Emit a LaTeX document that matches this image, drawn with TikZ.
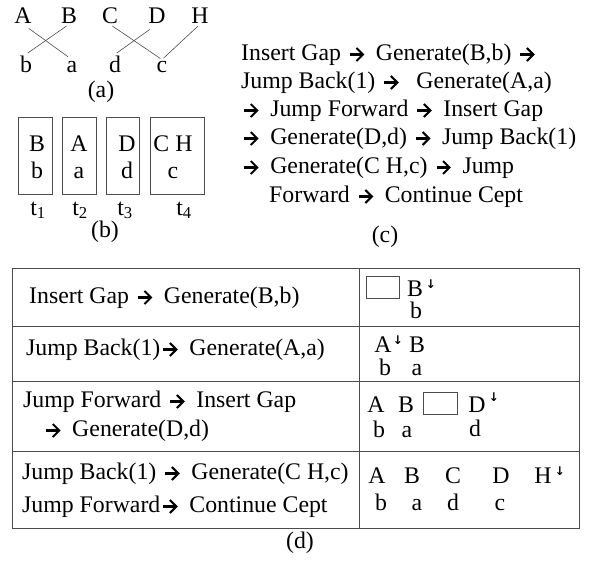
\documentclass[tikz,border=0pt]{standalone}
\usepackage{fontspec}
\setmainfont{Liberation Serif}
\newfontfamily\arrowfont{DejaVu Sans}
\newcommand{\ra}{\hspace{2pt}\tikz[baseline=0pt, x=1pt, y=1pt, line width=2.1pt]{\draw (0,5.5) -- (12.5,5.5); \draw[line join=miter] (6.5,12) -- (13,5.5) -- (6.5,-1);}\hspace{6pt}}
\newcommand{\dn}{{\arrowfont\bfseries\fontsize{12}{12}\selectfont ↓}}

\begin{document}
\begin{tikzpicture}[x=1pt,y=-1pt,
	every node/.style={font=\fontsize{23.8}{28}\selectfont, inner sep=1pt},
	word/.style={anchor=base},
	line/.style={anchor=base west},
	dnmark/.style={anchor=north, inner sep=0pt},
	link/.style={draw=black!70, line width=0.6pt, shorten <=3pt, shorten >=2pt},
	cept/.style={draw=black!70, line width=0.8pt, inner sep=0pt, minimum height=77pt},
	gapbox/.style={draw=black!70, line width=0.8pt, inner sep=0pt, minimum width=33pt, minimum height=22pt},
	rule/.style={draw=black!70, line width=0.9pt}]
\useasboundingbox (0,0) rectangle (592,560);

% (a)
\node[word] (A) at (23,23) {A};
\node[word] (B) at (69,23) {B};
\node[word] (C) at (110,23) {C};
\node[word] (D) at (157,23) {D};
\node[word] (H) at (200,23) {H};
\node[word] (b) at (26,72) {b};
\node[word] (a) at (72,72) {a};
\node[word] (d) at (115,72) {d};
\node[word] (c) at (162,72) {c};
\draw[link, shorten <=7pt, shorten >=5pt] (A.south) -- (a.north);
\draw[link] (B.south) -- (b.north);
\draw[link] (C.south) -- (c.north);
\draw[link, shorten <=9pt] (D.south) -- (d.north);
\draw[link] (H.south) -- (c.north);
\node[word] (capa) at (101,97) {(a)};

% (b)
\node[cept, minimum width=34pt] (t1box) at (35,155.5) {};
\node[cept, minimum width=34pt] (t2box) at (79,155.5) {};
\node[cept, minimum width=33pt] (t3box) at (122.5,155.5) {};
\node[cept, minimum width=54pt] (t4box) at (177,155.5) {};
\node[word] (t1src) at (37,151) {B};
\node[word] (t1tgt) at (37,178) {b};
\node[word] (t2src) at (79,151) {A};
\node[word] (t2tgt) at (79,178) {a};
\node[word] (t3src) at (127,151) {D};
\node[word] (t3tgt) at (127,178) {d};
\node[word] (t4src) at (173,151) {C H};
\node[word] (t4tgt) at (173,178) {c};
\node[word] (t1) at (38,215) {t\textsubscript{1}};
\node[word] (t2) at (80,215) {t\textsubscript{2}};
\node[word] (t3) at (125,215) {t\textsubscript{3}};
\node[word] (t4) at (184,215) {t\textsubscript{4}};
\node[word] (capb) at (105,237) {(b)};

% (c)
\node[line] (ops1) at (240,60) {Insert Gap \ra{} Generate(B,b) \ra};
\node[line] (ops2) at (240,88) {Jump Back(1) \ra{} \ Generate(A,a)};
\node[line] (ops3) at (240,116) {\ra{} Jump Forward \ra{} Insert Gap};
\node[line] (ops4) at (240,144) {\ra{} Generate(D,d) \ra{} Jump Back(1)};
\node[line] (ops5) at (240,173) {\ra{} Generate(C H,c) \ra{} Jump};
\node[line] (ops6) at (268,202) {Forward \ra{} Continue Cept};
\node[word] (capc) at (385,242) {(c)};

% (d)
\draw[rule] (12,268) rectangle (579,528);
\draw[rule] (359,268) -- (359,528);
\draw[rule] (12,326) -- (579,326);
\draw[rule] (12,381) -- (579,381);
\draw[rule] (12,451) -- (579,451);

\node[line] (row1) at (28,303) {Insert Gap \ra{} Generate(B,b)};
\node[line] (row2) at (25,355) {Jump Back(1)\ra{} Generate(A,a)};
\node[line] (row3a) at (22,407) {Jump Forward \ra{} Insert Gap};
\node[line] (row3b) at (42,436) {\ra{} Generate(D,d)};
\node[line] (row4a) at (21,479) {Jump Back(1) \ra{} Generate(C H,c)};
\node[line] (row4b) at (21,512) {Jump Forward\ra{} Continue Cept};

\node[gapbox] (gap1) at (382.5,287.5) {};
\node[word] (s1B) at (415,296) {B};
\node[dnmark] (s1dn) at (431,280) {\dn};
\node[word] (s1b) at (416,318) {b};

\node[word] (s2A) at (383,352) {A};
\node[dnmark] (s2dn) at (398,336) {\dn};
\node[word] (s2B) at (417,352) {B};
\node[word] (s2b) at (385,375) {b};
\node[word] (s2a) at (417,375) {a};

\node[word] (s3A) at (376,412) {A};
\node[word] (s3B) at (406,412) {B};
\node[gapbox, minimum width=34pt] (gap2) at (440,403) {};
\node[word] (s3D) at (477,412) {D};
\node[dnmark] (s3dn) at (494,393) {\dn};
\node[word] (s3b) at (379,437) {b};
\node[word] (s3a) at (407,437) {a};
\node[word] (s3d) at (475,436) {d};

\node[word] (s4A) at (377,483) {A};
\node[word] (s4B) at (412,483) {B};
\node[word] (s4C) at (453,483) {C};
\node[word] (s4D) at (501,483) {D};
\node[word] (s4H) at (543,483) {H};
\node[dnmark] (s4dn) at (560,467) {\dn};
\node[word] (s4b) at (381,510) {b};
\node[word] (s4a) at (417,510) {a};
\node[word] (s4d) at (453,510) {d};
\node[word] (s4c) at (500,510) {c};

\node[word] (capd) at (300,548) {(d)};
\end{tikzpicture}
\end{document}
